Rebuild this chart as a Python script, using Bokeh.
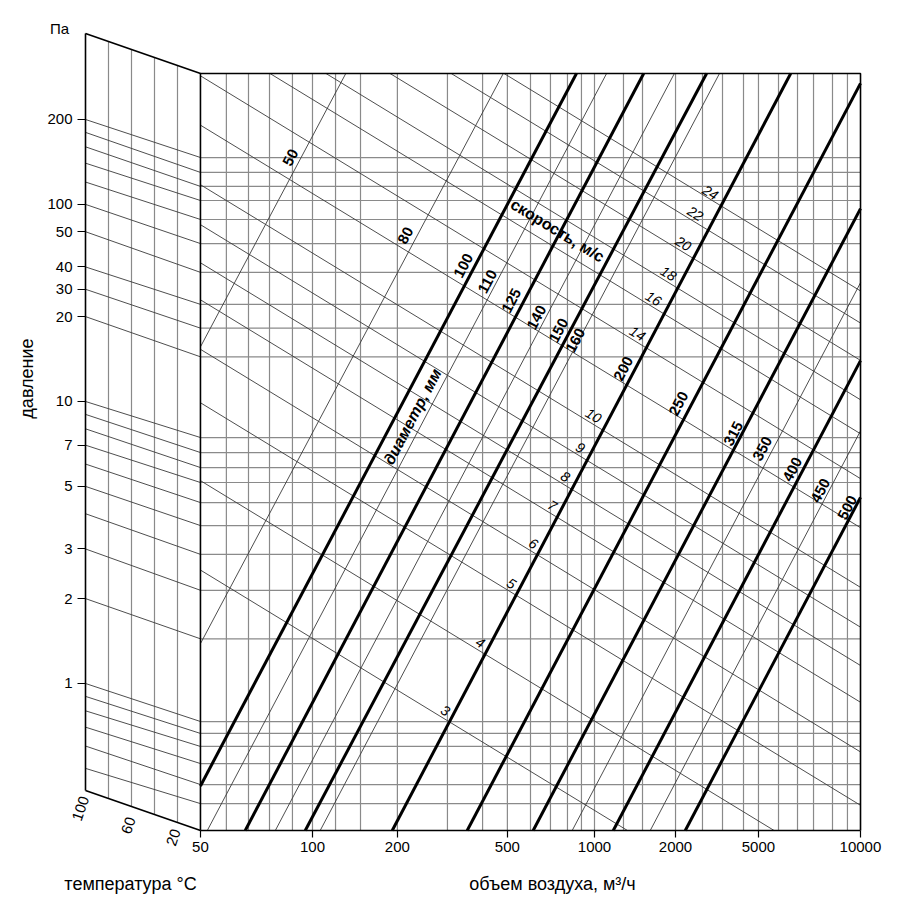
import numpy as np
from bokeh.plotting import figure
from bokeh.models import Range1d, LinearScale, FixedTicker, CustomJSTickFormatter
from bokeh.core.properties import value
from bokeh.embed import file_html
from bokeh.resources import INLINE

FONT = "Liberation Sans"

# ---------------- data ----------------
# x: air volume, m3/h (log), y: pressure, Pa (log)
x_tick_vals = [40.06, 100, 200, 491, 1000, 1938, 3815, 8770]
x_tick_labels = ["50", "100", "200", "500", "1000", "2000", "5000", "10000"]
y_tick_vals = [1, 2, 3, 5, 7, 10, 20, 25, 30, 40, 50, 100]
y_tick_labels = ["1", "2", "3", "5", "7", "10", "20", "30", "40", "50", "100", "200"]

# vertical grid of the main panel (air volume values)
q_grid = [49.5, 59.3, 70.4, 84.9, 100, 120.7, 148, 200, 301, 401, 491, 593, 698, 802,
          899, 1000, 1267, 1480, 1938, 2415, 2844, 3376, 3815, 4493, 5247, 5980, 6982, 7889]

# pressure grid: value at the 100 degC edge and at the main panel edge
p_grid_100c = [100, 90, 80, 70, 60, 50, 40, 30, 25, 20, 10, 9, 8, 7, 6, 5, 4, 3, 2, 1,
               0.9, 0.8, 0.7, 0.6, 0.5]
p_grid_main = [73.3, 64.9, 57.9, 51.6, 44.2, 36.3, 28.7, 22.1, 18.2, 14.4, 7.45, 6.59,
               5.83, 5.16, 4.38, 3.63, 2.87, 2.14, 1.44, 0.733, 0.665, 0.598, 0.520,
               0.438, 0.375]

# temperature panel
temp_grid = [80, 60, 40, 20]
temp_tick_labels = ["100", "60", "20"]

# duct diameter lines (mm): air volume at 1 Pa and at 10 Pa
diameters = [50, 80, 100, 110, 125, 140, 150, 160, 200, 250, 315, 350, 400, 450, 500]
diam_bold = [False, False, True, False, True, False, True, False, True, True, True,
             False, True, False, True]
diam_q_1pa = [9.29, 33.7, 62.3, 79.8, 108.6, 139.0, 178.1, 200.6, 360.7, 665.3, 1140,
              1568, 2192, 2965, 3946]
diam_q_10pa = [31.6, 114.5, 210, 268.8, 364.9, 467.9, 603.7, 675.7, 1212, 2236, 3831,
               5268, 7362, 9958, 13250]

# air velocity lines (m/s): pressure at 100 m3/h and at 1000 m3/h
velocities = [3, 4, 5, 6, 7, 8, 9, 10, 12, 14, 16, 18, 20, 22, 24]
vel_p_q100 = [1.445, 2.999, 5.665, 8.762, 13.13, 17.76, 24.25, 33.60, 54.65, 81.73,
              117.8, 155.7, 214.2, 290.4, 377.9]
vel_p_q1000 = [0.3548, 0.7364, 1.391, 2.151, 3.225, 4.358, 5.955, 8.247, 13.42, 20.05,
               28.91, 38.18, 52.60, 71.33, 92.77]
vel_labeled = [3, 4, 5, 6, 7, 8, 9, 10, 14, 16, 18, 20, 22, 24]

# ---------------- layout (positions / styles) ----------------
Q_LO, Q_HI = 40.06, 8776          # main panel edges
P_LO, P_HI = 0.3011, 145.6
P_TL, P_BL = 201.8, 0.4174        # temperature panel corners at 100 degC
Q_AXIS_LEFT = 15.67               # where the 100 degC edge sits on the volume scale

diam_lab_q = [83.6, 213.7, 343.1, 417.3, 507.8, 623.0, 745.5, 856.3, 1267, 1986, 3111,
              3942, 5037, 6330, 7892]
diam_lab_p = [73.3, 38.8, 30.35, 26.64, 22.81, 19.86, 17.86, 16.46, 13.09, 9.838, 7.699,
              6.813, 5.741, 4.835, 4.208]
vel_lab_q = [296.2, 394.2, 507.8, 607.5, 709.7, 789.2, 891.9, 991.9, 1421, 1619, 1830,
             2068, 2281, 2578]
vel_lab_p = [0.8021, 1.398, 2.263, 3.136, 4.278, 5.420, 6.869, 8.919, 17.42, 23.19, 28.44,
             36.33, 46.42, 55.09]
temp_lab_t = [104.3, 62.6, 23.5]
temp_lab_p = [0.3602, 0.3138, 0.2844]

GRID = "#8a8a8a"
THIN = "#3a3a3a"

p = figure(width=900, height=900, x_axis_type="log", y_axis_type="log",
           x_range=Range1d(7.828, 12165), y_range=Range1d(0.1700, 264.2),
           min_border_left=0, min_border_right=0, min_border_top=0,
           min_border_bottom=0, output_backend="svg", toolbar_location=None)
p.extra_x_ranges = {"temp": Range1d(start=173.91, end=-608.7)}
p.extra_x_scales = {"temp": LinearScale()}
p.xgrid.visible = False
p.ygrid.visible = False
p.outline_line_color = None
p.background_fill_color = "white"

fmt_code = """
for (let i = 0; i < tv.length; i++) {
  if (Math.abs(tv[i] - tick) <= 1e-6 * Math.abs(tv[i])) return tl[i];
}
return "";
"""
xa = p.xaxis[0]
xa.ticker = FixedTicker(ticks=x_tick_vals)
xa.formatter = CustomJSTickFormatter(args=dict(tv=x_tick_vals, tl=x_tick_labels), code=fmt_code)
xa.bounds = (Q_LO, Q_HI)
xa.fixed_location = P_LO
ya = p.yaxis[0]
ya.ticker = FixedTicker(ticks=y_tick_vals)
ya.formatter = CustomJSTickFormatter(args=dict(tv=y_tick_vals, tl=y_tick_labels), code=fmt_code)
ya.bounds = (P_BL, P_TL)
ya.fixed_location = Q_AXIS_LEFT
for ax in (xa, ya):
    ax.major_tick_in = 0
    ax.minor_tick_line_color = None
    ax.axis_line_width = 1.6
    ax.axis_line_color = "black"
    ax.major_tick_line_color = "black"
    ax.major_tick_line_width = 1.2
    ax.major_label_text_font = FONT
    ax.major_label_text_font_size = "15px"
    ax.major_label_text_color = "black"
xa.major_tick_out = 7
ya.major_tick_out = 8

# ---- grids of the main panel ----
n = len(q_grid)
p.segment(x0=q_grid, y0=[P_LO] * n, x1=q_grid, y1=[P_HI] * n, line_color=GRID, line_width=1.2)
m = len(p_grid_main)
p.segment(x0=[Q_LO] * m, y0=p_grid_main, x1=[Q_HI] * m, y1=p_grid_main, line_color=GRID, line_width=1.2)

# ---- temperature panel ----
lt = np.log10([P_TL, P_HI])
lb = np.log10([P_BL, P_LO])
tg = np.array(temp_grid, dtype=float)
top_t = 10 ** (lt[1] + tg / 100.0 * (lt[0] - lt[1]))
bot_t = 10 ** (lb[1] + tg / 100.0 * (lb[0] - lb[1]))
p.segment(x0=temp_grid, y0=bot_t, x1=temp_grid, y1=top_t, x_range_name="temp",
          line_color=GRID, line_width=1.2)
p.segment(x0=[100] * m, y0=p_grid_100c, x1=[0] * m, y1=p_grid_main, x_range_name="temp",
          line_color=THIN, line_width=0.9)
p.line(x=[100, 0], y=[P_TL, P_HI], x_range_name="temp", line_color="black", line_width=1.6)
p.line(x=[100, 0], y=[P_BL, P_LO], x_range_name="temp", line_color="black", line_width=1.6)


def clip(q1, p1, q2, p2):
    x1, y1, x2, y2 = np.log10([q1, p1, q2, p2])
    dx, dy = x2 - x1, y2 - y1
    t0, t1 = -1e9, 1e9
    for pk, qk in ((-dx, x1 - np.log10(Q_LO)), (dx, np.log10(Q_HI) - x1),
                   (-dy, y1 - np.log10(P_LO)), (dy, np.log10(P_HI) - y1)):
        if pk == 0:
            continue
        r = qk / pk
        if pk < 0:
            t0 = max(t0, r)
        else:
            t1 = min(t1, r)
    return ([10 ** (x1 + t0 * dx), 10 ** (x1 + t1 * dx)],
            [10 ** (y1 + t0 * dy), 10 ** (y1 + t1 * dy)])


# ---- velocity lines ----
vx, vy = [], []
for a, b in zip(vel_p_q100, vel_p_q1000):
    xs, ys = clip(100, a, 1000, b)
    vx.append(xs)
    vy.append(ys)
p.multi_line(xs=vx, ys=vy, line_color=THIN, line_width=0.9)

# ---- diameter lines ----
tx, ty, bx, by = [], [], [], []
for q1, q10, bold in zip(diam_q_1pa, diam_q_10pa, diam_bold):
    xs, ys = clip(q1, 1.0, q10, 10.0)
    if bold:
        bx.append(xs); by.append(ys)
    else:
        tx.append(xs); ty.append(ys)
p.multi_line(xs=tx, ys=ty, line_color=THIN, line_width=0.9)
p.multi_line(xs=bx, ys=by, line_color="black", line_width=3.0)

# ---- main panel border ----
p.line(x=[Q_LO, Q_LO, Q_HI, Q_HI], y=[P_LO, P_HI, P_HI, P_LO], line_color="black", line_width=1.6)

# ---- in-chart labels ----
p.text(x=diam_lab_q, y=diam_lab_p, text=[str(d) for d in diameters], angle=62.3,
       angle_units="deg", text_font=value(FONT), text_font_size="15px",
       text_font_style="bold", text_align="center", text_baseline="middle", text_color="black")
p.text(x=vel_lab_q, y=vel_lab_p, text=[str(v) for v in vel_labeled], angle=-31.4,
       angle_units="deg", text_font=value(FONT), text_font_size="14px",
       text_font_style="italic", text_align="center", text_baseline="middle", text_color="black")
p.text(x=[226.2], y=[8.848], text=["диаметр, мм"], angle=62.3, angle_units="deg",
       text_font=value(FONT), text_font_size="16px", text_font_style="bold italic",
       text_align="center", text_baseline="middle", text_color="black")
p.text(x=[739.4], y=[40.41], text=["скорость, м/с"], angle=-31.4, angle_units="deg",
       text_font=value(FONT), text_font_size="16px", text_font_style="bold",
       text_align="center", text_baseline="middle", text_color="black")

# ---- outer labels ----
p.text(x=temp_lab_t, y=temp_lab_p, text=temp_tick_labels, x_range_name="temp", angle=71,
       angle_units="deg", text_font=value(FONT), text_font_size="15px",
       text_align="center", text_baseline="middle", text_color="black")
p.text(x=[122.6], y=[210.2], text=["Па"], x_range_name="temp", text_font=value(FONT),
       text_font_size="15px", text_align="center", text_baseline="middle", text_color="black")
p.text(x=[151.3], y=[12.06], text=["давление"], x_range_name="temp", angle=90,
       angle_units="deg", text_font=value(FONT), text_font_size="18px",
       text_align="center", text_baseline="middle", text_color="black")
p.text(x=[60.87], y=[0.1953], text=["температура °C"], x_range_name="temp",
       text_font=value(FONT), text_font_size="18px", text_align="center",
       text_baseline="middle", text_color="black")
p.text(x=[709.7], y=[0.1953], text=["объем воздуха, м³/ч"], text_font=value(FONT),
       text_font_size="18px", text_align="center", text_baseline="middle", text_color="black")

open("out.html", "w").write(file_html(p, INLINE))
